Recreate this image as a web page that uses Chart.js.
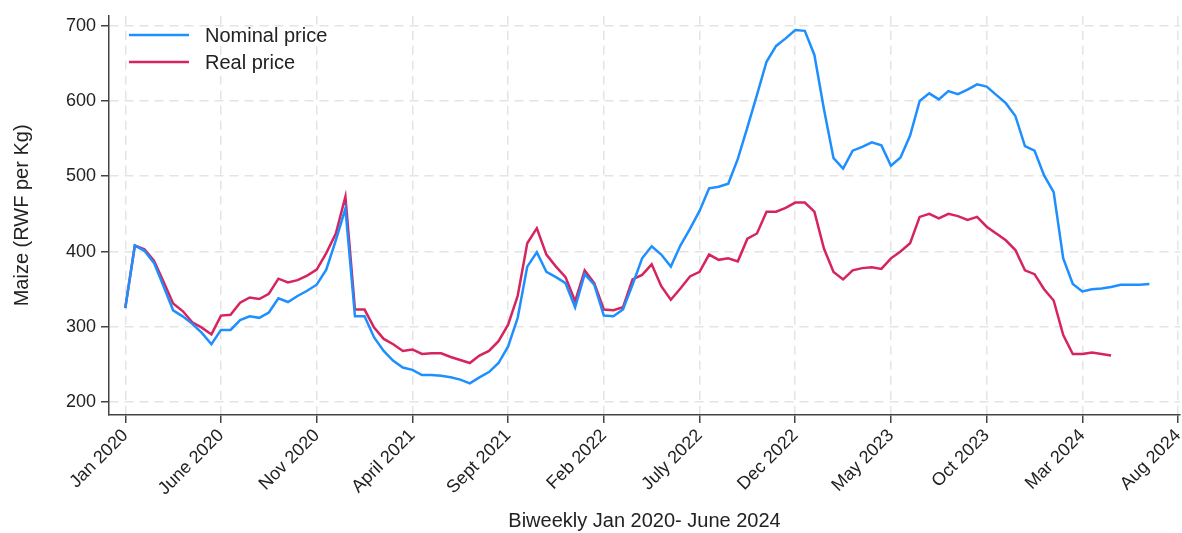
<!DOCTYPE html>
<html>
<head>
<meta charset="utf-8">
<title>Maize prices</title>
<script src="https://cdn.jsdelivr.net/npm/chart.js@4.4.1/dist/chart.umd.min.js"></script>
<style>
  html, body { margin: 0; padding: 0; background: #fff; }
  #wrap { width: 1182px; height: 533px; position: relative; }
</style>
</head>
<body>
<div id="wrap"><canvas id="maizeChart"></canvas></div>
<script>
// DATA (biweekly, index 0 = Jan 2020)
const nominalPrice = [
  325, 408, 401, 385, 354, 322, 314, 304, 292, 277,
  296, 296, 309, 314, 312, 319, 338, 333, 341, 348,
  356, 376, 415, 457, 314, 314, 286, 268, 255, 246,
  243, 236, 236, 235, 233, 230, 225, 233, 240, 252,
  274, 312, 380, 399, 373, 366, 358, 326, 370, 356,
  315, 314, 323, 356, 391, 407, 396, 380, 408, 430,
  454, 484, 486, 490, 523, 565, 608, 652, 673, 683,
  694, 693, 661, 589, 524, 510, 534, 539, 545, 541,
  514, 525, 554, 600, 610, 602, 613, 609, 615, 622,
  619, 608, 597, 580, 540, 534, 501, 479, 391, 357,
  347, 350, 351, 353, 356, 356, 356, 357
];
const realPrice = [
  325, 408, 403, 388, 360, 331, 321, 306, 299, 290,
  315, 316, 332, 339, 337, 344, 364, 359, 362, 368,
  376, 398, 424, 473, 323, 323, 299, 284, 277, 268,
  270, 264, 265, 265, 260, 256, 252, 262, 268, 281,
  303, 341, 411, 431, 396, 380, 366, 334, 375, 358,
  323, 322, 326, 363, 369, 383, 354, 336, 351, 367,
  373, 396, 389, 391, 387, 417, 424, 453, 453, 458,
  465, 465, 453, 404, 373, 363, 375, 378, 379, 377,
  391, 400, 411, 446, 450, 444, 450, 447, 442, 446,
  433, 424, 415, 402, 375, 370, 350, 335, 289, 264,
  264, 266, 264, 262
];
const biweeks = nominalPrice.map((v, i) => i);

const xTickPos = [0, 10, 20, 30, 40, 50, 60, 70, 80, 90, 100, 110];
const xTickLabels = ["Jan 2020", "June 2020", "Nov 2020", "April 2021", "Sept 2021", "Feb 2022",
                     "July 2022", "Dec 2022", "May 2023", "Oct 2023", "Mar 2024", "Aug 2024"];
const yTicks = [200, 300, 400, 500, 600, 700];

const blue = "#1e8fff";
const red = "#d6245f";
const font = "'Liberation Sans', Arial, sans-serif";
const textColor = "#222";
const axisColor = "#444";
const gridColor = "#e4e4e4";

// legend drawn inside the plot, top left
const insideLegend = {
  id: "insideLegend",
  afterDraw(chart) {
    const ctx = chart.ctx;
    const rows = [
      { label: chart.data.datasets[0].label, color: blue, y: 35 },
      { label: chart.data.datasets[1].label, color: red, y: 62 }
    ];
    ctx.save();
    ctx.font = "20px " + font;
    ctx.textBaseline = "middle";
    rows.forEach((r) => {
      ctx.strokeStyle = r.color;
      ctx.lineWidth = 2.5;
      ctx.beginPath();
      ctx.moveTo(129, r.y);
      ctx.lineTo(189, r.y);
      ctx.stroke();
      ctx.fillStyle = textColor;
      ctx.fillText(r.label, 205, r.y + 1);
    });
    ctx.restore();
  }
};

new Chart(document.getElementById("maizeChart"), {
  type: "line",
  data: {
    labels: biweeks,
    datasets: [
      { label: "Nominal price", data: nominalPrice, borderColor: blue, backgroundColor: blue,
        borderWidth: 2.5, pointRadius: 0, tension: 0 },
      { label: "Real price", data: realPrice, borderColor: red, backgroundColor: red,
        borderWidth: 2.5, pointRadius: 0, tension: 0 }
    ]
  },
  options: {
    responsive: true,
    maintainAspectRatio: false,
    animation: false,
    layout: { padding: { top: 12, right: 2, left: 0, bottom: 0 } },
    plugins: {
      legend: { display: false },
      tooltip: { enabled: false }
    },
    scales: {
      x: {
        type: "linear",
        min: -1.7,
        max: 110.2,
        afterBuildTicks: (axis) => { axis.ticks = xTickPos.map((v) => ({ value: v })); },
        afterFit: (axis) => {
          axis.height = 118;
          axis.paddingLeft = 0;
          axis.paddingRight = 0;
        },
        ticks: {
          autoSkip: false,
          maxRotation: 45,
          minRotation: 45,
          padding: 2,
          color: textColor,
          font: { family: font, size: 18 },
          callback: (v) => xTickLabels[xTickPos.indexOf(v)]
        },
        grid: { color: gridColor, lineWidth: 1.5, tickColor: axisColor, tickLength: 8, tickWidth: 1.5, tickBorderDash: [] },
        border: { display: true, color: axisColor, width: 1.5, dash: [9, 6] },
        title: {
          display: true,
          text: "Biweekly Jan 2020- June 2024",
          color: textColor,
          font: { family: font, size: 20 },
          padding: { top: 0, bottom: 0 }
        }
      },
      y: {
        min: 183,
        max: 713,
        afterBuildTicks: (axis) => { axis.ticks = yTicks.map((v) => ({ value: v })); },
        afterFit: (axis) => { axis.width = 109; },
        ticks: {
          padding: 5,
          color: textColor,
          font: { family: font, size: 18 }
        },
        grid: { color: gridColor, lineWidth: 1.5, tickColor: axisColor, tickLength: 8, tickWidth: 1.5, tickBorderDash: [] },
        border: { display: true, color: axisColor, width: 1.5, dash: [9, 6] },
        title: {
          display: true,
          text: "Maize (RWF per Kg)",
          color: textColor,
          font: { family: font, size: 20 },
          padding: { top: 10, bottom: 4 }
        }
      }
    }
  },
  plugins: [insideLegend]
});
</script>
</body>
</html>
